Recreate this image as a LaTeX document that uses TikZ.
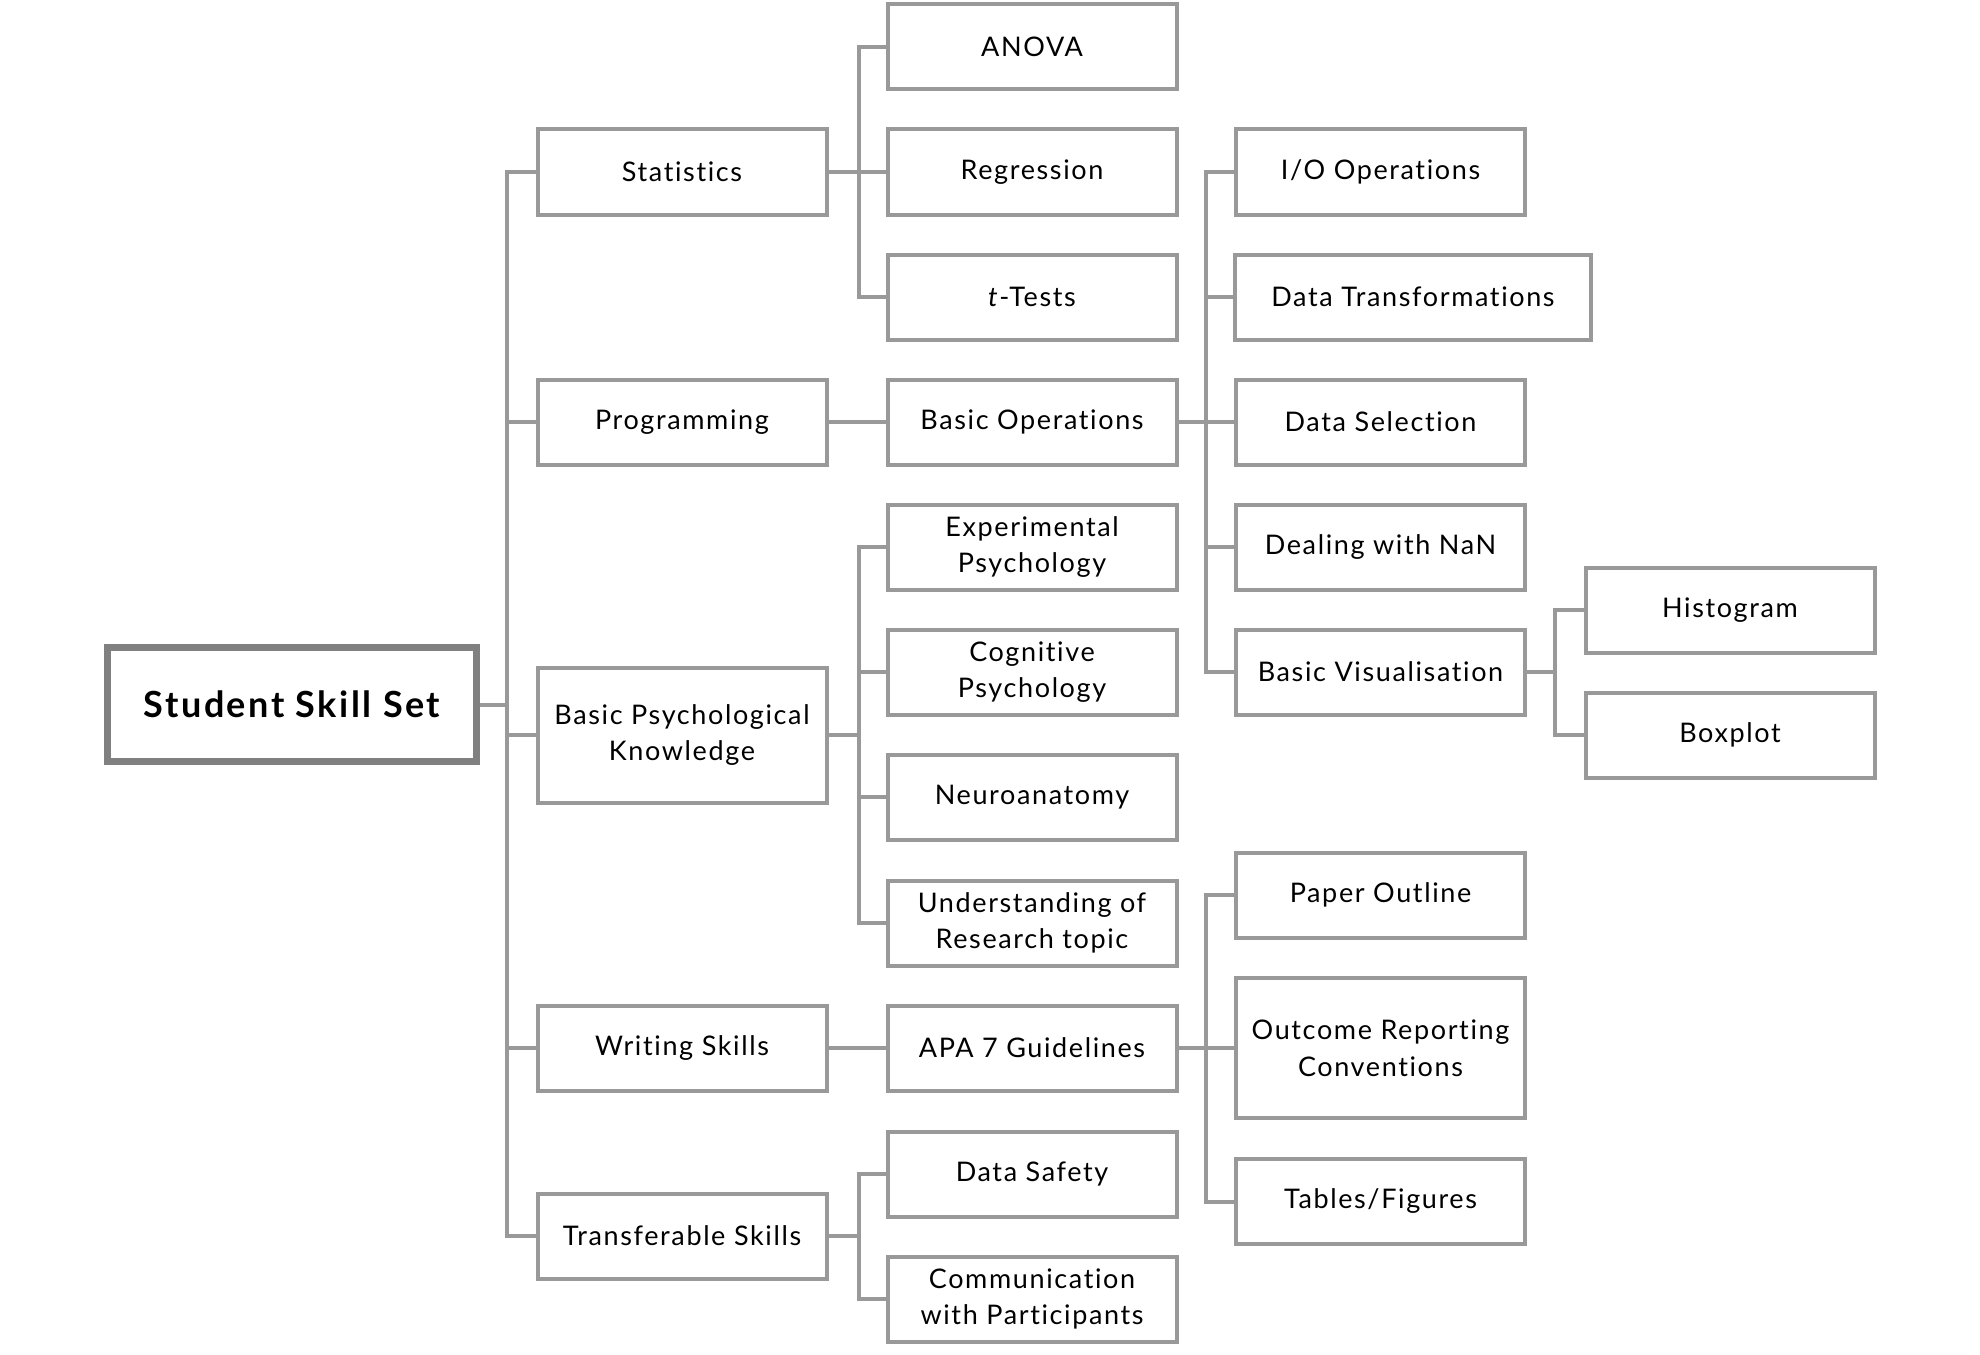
\documentclass[tikz,border=0pt]{standalone}
\usepackage{fontspec}
\setmainfont{Lato}[LetterSpace=6, Ligatures=NoCommon]
\usepackage{tikz}

\definecolor{boxgray}{HTML}{999999}
\definecolor{rootgray}{HTML}{808080}

\tikzset{
  skill/.style={draw=boxgray, line width=2pt, fill=white, align=center,
    minimum width=144.5pt, minimum height=42.5pt, inner sep=2pt,
    font=\fontsize{13.5}{18.3}\selectfont},
  rootskill/.style={draw=rootgray, line width=3.5pt, fill=white, align=center,
    minimum width=184.75pt, minimum height=57pt,
    font=\fontsize{18}{21}\selectfont\bfseries\addfontfeatures{LetterSpace=7}},
  link/.style={draw=boxgray, line width=2pt}
}

\begin{document}
\begin{tikzpicture}[x=0.5pt, y=-0.5pt]
    \useasboundingbox (0,0) rectangle (1980,1354);
    % root
    \node[rootskill] (root) at (292, 704.5) {Student Skill Set};
    % first level
    \node[skill] (stat) at (682, 172) {Statistics};
    \node[skill] (prog) at (682, 422) {Programming};
    \node[skill, minimum height=67.5pt] (psy) at (682, 735) {Basic Psychological\\Knowledge};
    \node[skill] (writ) at (682, 1048) {Writing Skills};
    \node[skill] (trans) at (682, 1236) {Transferable Skills};
    % second level
    \node[skill] (anova) at (1032, 47) {ANOVA};
    \node[skill] (regr) at (1032, 172) {Regression};
    \node[skill] (ttest) at (1032, 297) {\textit{t}-Tests};
    \node[skill] (basic) at (1032, 422) {Basic Operations};
    \node[skill] (exp) at (1032, 547) {Experimental\\Psychology};
    \node[skill] (cog) at (1032, 672) {Cognitive\\Psychology};
    \node[skill] (neuro) at (1032, 797) {Neuroanatomy};
    \node[skill] (topic) at (1032, 923) {Understanding of\\Research topic};
    \node[skill] (apa) at (1032, 1048) {APA 7 Guidelines};
    \node[skill] (safe) at (1032, 1174) {Data Safety};
    \node[skill] (comm) at (1032, 1299) {Communication\\with Participants};
    % third level
    \node[skill] (io) at (1380.5, 172) {I/O Operations};
    \node[skill, minimum width=178pt] (dtrans) at (1413, 297) {Data Transformations};
    \node[skill] (dsel) at (1380.5, 422) {Data Selection};
    \node[skill] (nan) at (1380.5, 547) {Dealing with NaN};
    \node[skill] (vis) at (1380.5, 672) {Basic Visualisation};
    \node[skill] (outl) at (1380.5, 895) {Paper Outline};
    \node[skill, minimum height=70pt] (outc) at (1380.5, 1048) {Outcome Reporting\\Conventions};
    \node[skill] (tabs) at (1380.5, 1201.5) {Tables/Figures};
    % fourth level
    \node[skill] (hist) at (1730, 610) {Histogram};
    \node[skill] (box) at (1730, 735) {Boxplot};
    % connectors
    \foreach \c in {stat, prog, psy, writ, trans}
      \draw[link] (root.east) -- ++(27,0) |- (\c.west);
    \foreach \c in {anova, regr, ttest}
      \draw[link] (stat.east) -- ++(30,0) |- (\c.west);
    \foreach \c in {exp, cog, neuro, topic}
      \draw[link] (psy.east) -- ++(30,0) |- (\c.west);
    \foreach \c in {safe, comm}
      \draw[link] (trans.east) -- ++(30,0) |- (\c.west);
    \foreach \c in {io, dtrans, dsel, nan, vis}
      \draw[link] (basic.east) -- ++(27,0) |- (\c.west);
    \foreach \c in {outl, outc, tabs}
      \draw[link] (apa.east) -- ++(27,0) |- (\c.west);
    \foreach \c in {hist, box}
      \draw[link] (vis.east) -- ++(28,0) |- (\c.west);
    \draw[link] (prog) -- (basic);
    \draw[link] (writ) -- (apa);
\end{tikzpicture}
\end{document}
